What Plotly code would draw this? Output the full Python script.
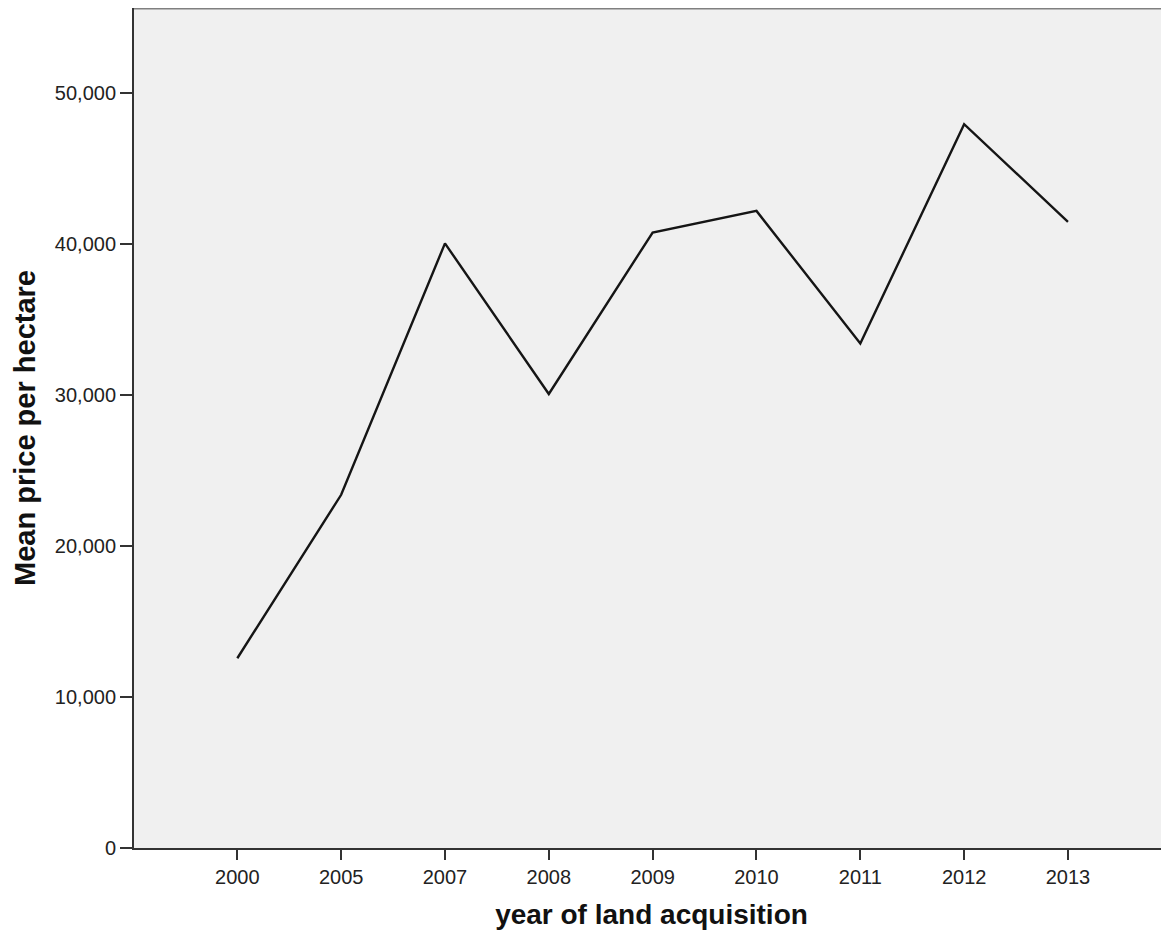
import plotly.graph_objects as go

years = ["2000", "2005", "2007", "2008", "2009", "2010", "2011", "2012", "2013"]
mean_price = [12560, 23380, 40020, 30050, 40740, 42170, 33390, 47910, 41450]
y_ticks = [0, 10000, 20000, 30000, 40000, 50000]
y_tick_labels = ["0", "10,000", "20,000", "30,000", "40,000", "50,000"]

fig = go.Figure()
fig.add_trace(go.Scatter(
    x=list(range(len(years))), y=mean_price, mode="lines",
    line=dict(color="#151515", width=2.4), showlegend=False, hoverinfo="skip"))

font_tick = dict(family="Liberation Sans, Arial, sans-serif", size=20, color="#222222")
font_ytitle = dict(family="Liberation Sans, Arial, sans-serif", size=29, color="#111111")
font_xtitle = dict(family="Liberation Sans, Arial, sans-serif", size=28, color="#111111")

# the page adds an 8px body margin on every side, so the figure is shrunk to avoid scrollbars
fig.update_layout(
    width=1161, height=922,
    margin=dict(l=126, r=0, t=0, b=82),
    paper_bgcolor="white", plot_bgcolor="#f0f0f0",
    xaxis=dict(
        range=[-0.995, 8.973], tickmode="array",
        tickvals=list(range(len(years))), ticktext=years,
        ticks="outside", ticklen=10, tickwidth=2, tickcolor="#333333",
        showline=True, linecolor="#333333", linewidth=2,
        showgrid=False, zeroline=False, tickfont=font_tick,
        title=dict(text="<b>year of land acquisition</b>", font=font_xtitle, standoff=21),
    ),
    yaxis=dict(
        range=[0, 55600], tickmode="array", tickvals=y_ticks, ticktext=y_tick_labels,
        ticks="outside", ticklen=12, tickwidth=2, tickcolor="#333333",
        showline=True, linecolor="#333333", linewidth=2,
        showgrid=False, zeroline=False, tickfont=font_tick,
        title=dict(text="<b>Mean price per hectare</b>", font=font_ytitle, standoff=11),
    ),
    shapes=[dict(type="line", xref="paper", yref="paper", x0=0, x1=1, y0=1, y1=1,
                 line=dict(color="#808080", width=3))],
)

fig.write_html("out.html")
